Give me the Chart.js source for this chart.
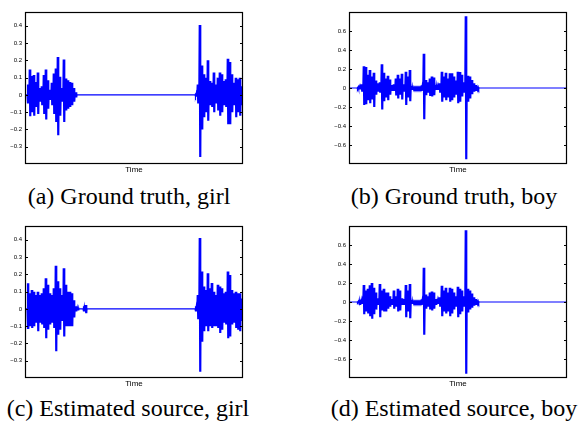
<!DOCTYPE html>
<html>
<head>
    <title>Ground truth vs estimated sources</title>
    <meta charset="utf-8">
    <script src="https://cdn.jsdelivr.net/npm/chart.js"></script>
    <style>
        body {
            margin: 0;
            width: 578px;
            height: 421px;
            overflow: hidden;
            background: #fff;
            position: relative;
        }
        canvas {
            position: absolute;
        }
        .caption {
            position: absolute;
            width: 300px;
            text-align: center;
            font-family: "Liberation Serif", "Times New Roman", serif;
            font-size: 24px;
            line-height: 24px;
            color: #000;
            white-space: nowrap;
        }
    </style>
</head>
<body>
    <canvas id="girlTruth" width="289" height="180" style="left:0;top:0"></canvas>
    <canvas id="boyTruth" width="288" height="180" style="left:290px;top:0"></canvas>
    <canvas id="girlEst" width="289" height="180" style="left:0;top:214px"></canvas>
    <canvas id="boyEst" width="288" height="180" style="left:290px;top:214px"></canvas>

    <div class="caption" style="left:-21px;top:184px">(a) Ground truth, girl</div>
    <div class="caption" style="left:304px;top:184px">(b) Ground truth, boy</div>
    <div class="caption" style="left:-22px;top:396px">(c) Estimated source, girl</div>
    <div class="caption" style="left:304px;top:396px">(d) Estimated source, boy</div>

    <script>
        // time axis: 109 columns, each column has an upper and lower peak
        var nCols = 109;

        var girlTicks = [-0.3, -0.2, -0.1, 0, 0.1, 0.2, 0.3, 0.4];
        var boyTicks = [-0.6, -0.4, -0.2, 0, 0.2, 0.4, 0.6];

        // (a) ground truth, girl
        var girlTruthStart = [1, 85];
        var girlTruthHi = [
            [0.06, 0.147, 0.11, 0.115, 0.075, 0.13, 0.04, 0.05, 0.115, 0.147, 0.085, 0.03, 0.07,
             0.124, 0.153, 0.22, 0.105, 0.04, 0.205, 0.095, 0.085, 0.075, 0.07, 0.04, 0.015],
            [0.01, 0.06, 0.405, 0.17, 0.12, 0.1, 0.2, 0.08, 0.07, 0.13, 0.06, 0.1, 0.13, 0.12,
             0.08, 0.09, 0.21, 0.19, 0.12, 0.07, 0.1, 0.09, 0.1, 0.05]
        ];
        var girlTruthLo = [
            [-0.05, -0.124, -0.1, -0.12, -0.07, -0.11, -0.04, -0.06, -0.11, -0.143, -0.08, -0.03, -0.06,
             -0.11, -0.157, -0.234, -0.12, -0.04, -0.157, -0.09, -0.08, -0.07, -0.06, -0.04, -0.015],
            [-0.01, -0.05, -0.36, -0.2, -0.13, -0.1, -0.15, -0.06, -0.07, -0.1, -0.05, -0.09, -0.12, -0.1,
             -0.06, -0.07, -0.17, -0.17, -0.1, -0.06, -0.13, -0.1, -0.12, -0.06]
        ];

        // (b) ground truth, boy
        var boyTruthStart = [4, 36];
        var boyTruthHi = [
            [0.012, 0.015, 0.04, 0.23, 0.22, 0.14, 0.19, 0.12, 0.16, 0.08, 0.05, 0.06, 0.25, 0.16,
             0.1, 0.13, 0.09, 0.03, 0.04, 0.1, 0.14, 0.1, 0.15, 0.04, 0.17, 0.12, 0.19, 0.02,
             0.008, 0.008, 0.008, 0.008],
            [0.03, 0.36, 0.085, 0.06, 0.1, 0.12, 0.11, 0.03, 0.02, 0.05, 0.17, 0.12, 0.16, 0.1,
             0.155, 0.155, 0.12, 0.08, 0.17, 0.168, 0.14, 0.06, 0.755, 0.13, 0.12, 0.085, 0.05, 0.03, 0.01]
        ];
        var boyTruthLo = [
            [-0.012, -0.015, -0.04, -0.18, -0.17, -0.13, -0.16, -0.12, -0.2, -0.07, -0.04, -0.05, -0.225, -0.14,
             -0.1, -0.13, -0.07, -0.03, -0.03, -0.08, -0.11, -0.07, -0.12, -0.04, -0.18, -0.1, -0.14, -0.02,
             -0.008, -0.008, -0.008, -0.008],
            [-0.03, -0.33, -0.075, -0.05, -0.085, -0.09, -0.075, -0.02, -0.02, -0.05, -0.145, -0.1, -0.13, -0.1,
             -0.145, -0.13, -0.1, -0.07, -0.16, -0.145, -0.09, -0.05, -0.75, -0.145, -0.11, -0.065, -0.04, -0.03, -0.01]
        ];

        // (c) estimated source, girl
        var girlEstStart = [1, 29, 85];
        var girlEstHi = [
            [0.149, 0.09, 0.11, 0.1, 0.08, 0.1, 0.08, 0.09, 0.12, 0.178, 0.14, 0.09, 0.08, 0.12,
             0.25, 0.16, 0.12, 0.08, 0.235, 0.14, 0.1, 0.1, 0.09, 0.05, 0.015, 0.008],
            [0.015, 0.023],
            [0.015, 0.08, 0.41, 0.217, 0.13, 0.11, 0.207, 0.12, 0.15, 0.1, 0.08, 0.14, 0.13, 0.12,
             0.09, 0.1, 0.217, 0.197, 0.11, 0.09, 0.1, 0.09, 0.09, 0.06]
        ];
        var girlEstLo = [
            [-0.116, -0.1, -0.11, -0.1, -0.08, -0.13, -0.08, -0.09, -0.11, -0.17, -0.12, -0.09, -0.08, -0.11,
             -0.245, -0.15, -0.12, -0.07, -0.16, -0.1, -0.1, -0.1, -0.1, -0.05, -0.015, -0.008],
            [-0.015, -0.025],
            [-0.015, -0.06, -0.364, -0.19, -0.13, -0.1, -0.13, -0.1, -0.11, -0.1, -0.1, -0.11, -0.14, -0.12,
             -0.08, -0.09, -0.17, -0.16, -0.09, -0.08, -0.11, -0.12, -0.13, -0.07]
        ];

        // (d) estimated source, boy
        var boyEstStart = [4, 36];
        var boyEstHi = [
            [0.008, 0.025, 0.02, 0.18, 0.12, 0.14, 0.175, 0.2, 0.15, 0.1, 0.04, 0.19, 0.12, 0.14,
             0.1, 0.1, 0.06, 0.03, 0.12, 0.06, 0.14, 0.12, 0.04, 0.03, 0.18, 0.12, 0.19, 0.02,
             0.008, 0.008, 0.008, 0.008],
            [0.03, 0.36, 0.08, 0.06, 0.1, 0.11, 0.1, 0.03, 0.02, 0.05, 0.17, 0.12, 0.15, 0.1,
             0.15, 0.14, 0.1, 0.06, 0.16, 0.14, 0.12, 0.06, 0.755, 0.14, 0.12, 0.09, 0.05, 0.03, 0.01]
        ];
        var boyEstLo = [
            [-0.008, -0.03, -0.02, -0.13, -0.1, -0.12, -0.15, -0.175, -0.13, -0.08, -0.03, -0.16, -0.09, -0.1,
             -0.1, -0.07, -0.05, -0.03, -0.07, -0.05, -0.1, -0.09, -0.03, -0.03, -0.16, -0.1, -0.17, -0.02,
             -0.008, -0.008, -0.008, -0.008],
            [-0.03, -0.345, -0.07, -0.05, -0.08, -0.09, -0.07, -0.03, -0.02, -0.05, -0.15, -0.1, -0.12, -0.1,
             -0.15, -0.12, -0.08, -0.05, -0.16, -0.13, -0.1, -0.05, -0.755, -0.11, -0.08, -0.06, -0.04, -0.03, -0.01]
        ];

        // each column is drawn as two up/down strokes between its peaks
        function buildPoints(starts, his, los) {
            var pts = [{ x: 0, y: 0 }];
            starts.forEach(function(s, b) {
                pts.push({ x: s, y: 0 });
                his[b].forEach(function(h, k) {
                    var lo = los[b][k];
                    pts.push({ x: s + k + 0.125, y: h });
                    pts.push({ x: s + k + 0.375, y: lo });
                    pts.push({ x: s + k + 0.625, y: h });
                    pts.push({ x: s + k + 0.875, y: lo });
                });
                pts.push({ x: s + his[b].length, y: 0 });
            });
            pts.push({ x: nCols, y: 0 });
            return pts;
        }

        // matlab-like box with inward ticks on both sides
        var boxPlugin = {
            id: 'box',
            afterDraw: function(chart) {
                var ctx = chart.ctx, a = chart.chartArea, y = chart.scales.y;
                ctx.save();
                ctx.strokeStyle = '#000';
                ctx.lineWidth = 1.2;
                ctx.strokeRect(a.left + 0.5, a.top + 0.5, a.right - a.left - 1, a.bottom - a.top - 1);
                ctx.lineWidth = 1;
                ctx.beginPath();
                y.ticks.forEach(function(t) {
                    var py = Math.round(y.getPixelForValue(t.value)) + 0.5;
                    ctx.moveTo(a.left, py); ctx.lineTo(a.left + 3, py);
                    ctx.moveTo(a.right - 3, py); ctx.lineTo(a.right, py);
                });
                ctx.stroke();
                ctx.restore();
            }
        };

        function makePanel(id, points, yMin, yMax, ticks, yWidth, padRight) {
            new Chart(document.getElementById(id), {
                type: 'line',
                data: {
                    datasets: [{
                        data: points,
                        borderColor: '#0000ff',
                        borderWidth: 1.2,
                        pointRadius: 0,
                        tension: 0,
                        fill: false
                    }]
                },
                options: {
                    responsive: false,
                    animation: false,
                    layout: { padding: { top: 12, right: padRight, left: 0, bottom: 0 } },
                    plugins: { legend: { display: false }, tooltip: { enabled: false } },
                    scales: {
                        x: {
                            type: 'linear',
                            min: 0,
                            max: nCols,
                            ticks: { display: false },
                            grid: { display: false, drawTicks: false },
                            border: { display: false },
                            title: {
                                display: true,
                                text: 'Time',
                                color: '#000',
                                font: { family: "'Liberation Sans', Arial, sans-serif", size: 8 },
                                padding: { top: 0, bottom: 5 }
                            },
                            afterFit: function(s) { s.height = 16; }
                        },
                        y: {
                            min: yMin,
                            max: yMax,
                            afterBuildTicks: function(s) {
                                s.ticks = ticks.map(function(v) { return { value: v }; });
                            },
                            ticks: {
                                color: '#000',
                                padding: 3,
                                font: { family: "'Liberation Sans', Arial, sans-serif", size: 6 },
                                callback: function(v) { return v < 0 ? '\u2212' + String(-v) : String(v); }
                            },
                            grid: { display: false, drawTicks: false },
                            border: { display: false },
                            afterFit: function(s) { s.width = yWidth; }
                        }
                    }
                },
                plugins: [boxPlugin]
            });
        }

        makePanel('girlTruth', buildPoints(girlTruthStart, girlTruthHi, girlTruthLo), -0.40, 0.48, girlTicks, 25, 46);
        makePanel('boyTruth', buildPoints(boyTruthStart, boyTruthHi, boyTruthLo), -0.8, 0.8, boyTicks, 59, 11);
        makePanel('girlEst', buildPoints(girlEstStart, girlEstHi, girlEstLo), -0.40, 0.48, girlTicks, 25, 46);
        makePanel('boyEst', buildPoints(boyEstStart, boyEstHi, boyEstLo), -0.8, 0.8, boyTicks, 59, 11);
    </script>
</body>
</html>
